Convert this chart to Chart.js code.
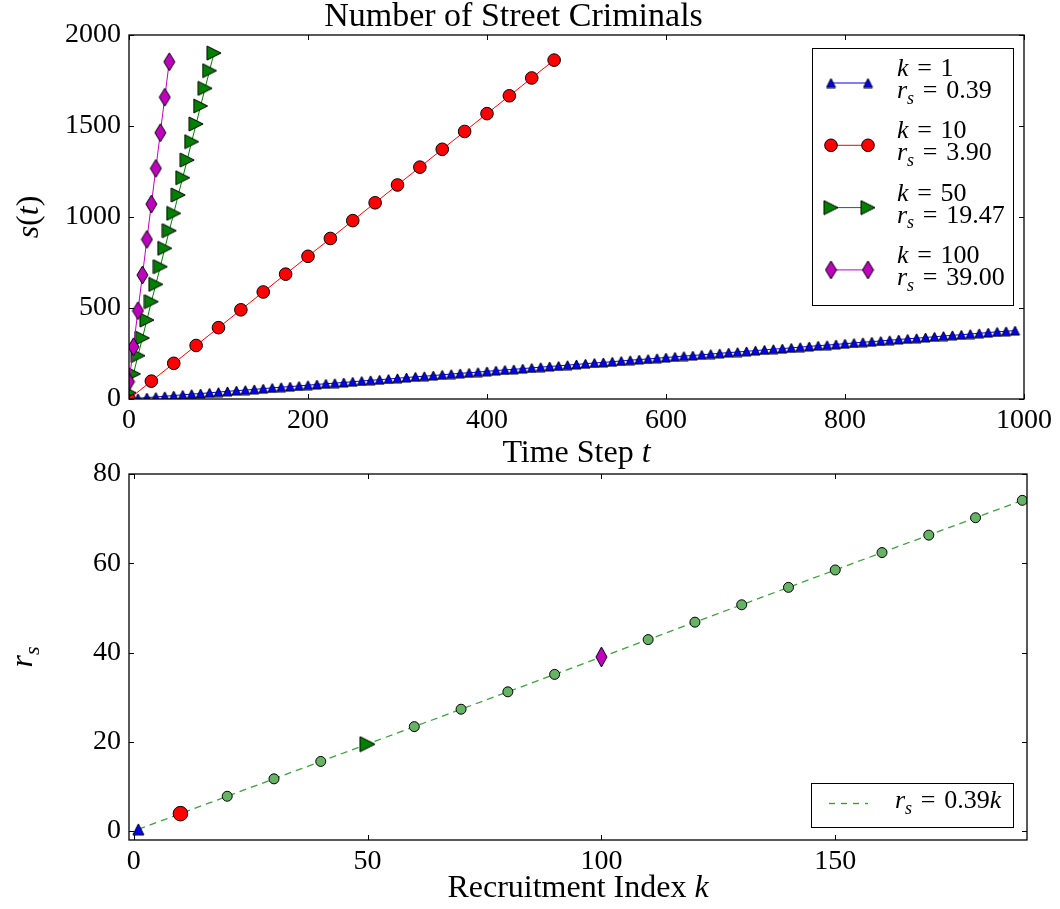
<!DOCTYPE html>
<html>
<head>
<meta charset="utf-8">
<script src="https://cdn.jsdelivr.net/npm/chart.js@4.4.0/dist/chart.umd.min.js"></script>
<style>
  body { margin: 0; background: #fff; }
  canvas { position: absolute; left: 0; }
  #topChart { top: 0; }
  #bottomChart { top: 440px; }
</style>
</head>
<body>
<canvas id="bottomChart" width="1060" height="469"></canvas>
<canvas id="topChart" width="1060" height="470"></canvas>
<script>
// --- top panel: s(t) for each recruitment index k ---
const tK1 = [0,10,20,30,40,50,60,70,80,90,100,110,120,130,140,150,160,170,180,190,
  200,210,220,230,240,250,260,270,280,290,300,310,320,330,340,350,360,370,380,390,
  400,410,420,430,440,450,460,470,480,490,500,510,520,530,540,550,560,570,580,590,
  600,610,620,630,640,650,660,670,680,690,700,710,720,730,740,750,760,770,780,790,
  800,810,820,830,840,850,860,870,880,890,900,910,920,930,940,950,960,970,980,990];
const sK1 = [0,4,8,11,15,19,23,27,30,34,38,42,46,49,53,57,61,65,68,72,
  76,80,84,87,91,95,99,103,106,110,114,118,122,125,129,133,137,141,144,148,
  152,156,160,163,167,171,175,179,182,186,190,194,198,201,205,209,213,217,220,224,
  228,232,236,239,243,247,251,255,258,262,266,270,274,277,281,285,289,293,296,300,
  304,308,312,315,319,323,327,331,334,338,342,346,350,353,357,361,365,369,372,376];
const tK10 = [0,25,50,75,100,125,150,175,200,225,250,275,300,325,350,375,400,425,450,475];
const sK10 = [0,98,196,294,392,490,588,686,784,882,980,1078,1176,1274,1372,1470,1568,1666,1764,1862];
const tK50 = [0,5,10,15,20,25,30,35,40,45,50,55,60,65,70,75,80,85,90,95];
const sK50 = [35,138,238,335,434,535,630,727,828,925,1020,1121,1216,1313,1414,1511,1610,1707,1804,1901];
const tK100 = [0,5,10,15,20,25,30,35,40,45];
const sK100 = [95,287,485,681,877,1071,1267,1463,1658,1853];

// --- bottom panel: r_s against k ---
const kSample = [20,30,40,60,70,80,90,110,120,130,140,150,160,170,180,190];
const rsSample = [7.8,11.7,15.6,23.4,27.3,31.2,35.1,42.9,46.8,50.7,54.6,58.5,62.4,66.3,70.2,74.1];
const kHighlight = [1, 10, 50, 100];
const rsHighlight = [0.39, 3.90, 19.47, 39.00];
const fitK = [1, 190];
const fitRs = [0.39, 74.1];

// tick labels
const topXTicks = [0, 200, 400, 600, 800, 1000];
const topYTicks = [0, 500, 1000, 1500, 2000];
const botXTicks = [0, 50, 100, 150];
const botYTicks = [0, 20, 40, 60, 80];

const SERIF = '"Liberation Serif", "DejaVu Serif", serif';
const EQ = '\u2004=\u2004';

// marker images (matplotlib-like shapes)
function markerImage(w, h, fill, shape) {
  const c = document.createElement('canvas');
  c.width = w + 2; c.height = h + 2;
  const g = c.getContext('2d');
  g.translate(1, 1);
  g.beginPath();
  if (shape === 'up') { g.moveTo(w / 2, 0); g.lineTo(w, h); g.lineTo(0, h); }
  if (shape === 'right') { g.moveTo(0, 0); g.lineTo(w, h / 2); g.lineTo(0, h); }
  if (shape === 'diamond') { g.moveTo(w / 2, 0); g.lineTo(w, h / 2); g.lineTo(w / 2, h); g.lineTo(0, h / 2); }
  g.closePath();
  g.fillStyle = fill; g.fill();
  g.lineWidth = 1; g.strokeStyle = '#000'; g.stroke();
  return c;
}

const seriesStyle = [
  { color: '#0000ff', top: markerImage(9, 9, '#0000ff', 'up'), bottom: markerImage(11, 11, '#0000ff', 'up') },
  { color: '#ff0000', top: 'circle', bottom: 'circle', rTop: 6.3, rBottom: 7.3 },
  { color: '#008000', top: markerImage(14, 14, '#008000', 'right'), bottom: markerImage(15, 15, '#008000', 'right') },
  { color: '#bf00bf', top: markerImage(11, 18, '#bf00bf', 'diamond'), bottom: markerImage(11, 20, '#bf00bf', 'diamond') }
];

function toPoints(xs, ys) {
  return xs.map((x, i) => ({ x: x, y: ys[i] }));
}

function fontFor(kind, size) {
  const sz = kind === 's' ? Math.round(size * 0.7) : size;
  return (kind === 'r' ? '' : 'italic ') + sz + 'px ' + SERIF;
}

// draw text mixing roman, italic and subscript parts
function drawRich(ctx, parts, x, y, size, align) {
  ctx.save();
  ctx.textBaseline = 'alphabetic';
  ctx.textAlign = 'left';
  ctx.fillStyle = '#000';
  let w = 0;
  parts.forEach(p => { ctx.font = fontFor(p[1], size); w += ctx.measureText(p[0]).width; });
  let cx = align === 'center' ? x - w / 2 : x;
  parts.forEach(p => {
    ctx.font = fontFor(p[1], size);
    ctx.fillText(p[0], cx, p[1] === 's' ? y + size * 0.22 : y);
    cx += ctx.measureText(p[0]).width;
  });
  ctx.restore();
}

function drawMarker(ctx, style, radius, color, x, y) {
  ctx.save();
  ctx.fillStyle = color;
  ctx.strokeStyle = '#000';
  ctx.lineWidth = 1;
  Chart.helpers.drawPoint(ctx, { pointStyle: style, radius: radius, borderWidth: 1, rotation: 0 }, x, y);
  ctx.restore();
}

// frame, inward ticks, axis titles and legend
const framePlugin = {
  id: 'frame',
  afterDatasetsDraw(chart, args, opts) {
    const ctx = chart.ctx;
    const a = chart.chartArea;
    const xs = chart.scales.x, ys = chart.scales.y;
    ctx.save();
    ctx.strokeStyle = '#000';
    ctx.lineWidth = 1;
    ctx.beginPath();
    xs.ticks.forEach(t => {
      const px = Math.round(xs.getPixelForValue(t.value)) + 0.5;
      ctx.moveTo(px, a.bottom); ctx.lineTo(px, a.bottom - 5);
      ctx.moveTo(px, a.top); ctx.lineTo(px, a.top + 5);
    });
    ys.ticks.forEach(t => {
      const py = Math.round(ys.getPixelForValue(t.value)) + 0.5;
      ctx.moveTo(a.left, py); ctx.lineTo(a.left + 5, py);
      ctx.moveTo(a.right, py); ctx.lineTo(a.right - 5, py);
    });
    ctx.stroke();
    ctx.lineWidth = 1.3;
    ctx.strokeRect(a.left, a.top, a.right - a.left, a.bottom - a.top);
    ctx.restore();

    drawRich(ctx, opts.xTitle, (a.left + a.right) / 2, opts.xTitleY, 32, 'center');
    ctx.save();
    ctx.translate(opts.yTitleX, (a.top + a.bottom) / 2);
    ctx.rotate(-Math.PI / 2);
    drawRich(ctx, opts.yTitle, 0, 0, 32, 'center');
    ctx.restore();
    if (opts.legend) opts.legend(ctx);
  }
};

function topLegend(ctx) {
  ctx.save();
  ctx.fillStyle = '#fff';
  ctx.fillRect(812.5, 48.5, 201, 257);
  ctx.strokeStyle = '#000';
  ctx.lineWidth = 1;
  ctx.strokeRect(812.5, 48.5, 201, 257);
  ctx.restore();
  kHighlight.forEach((k, i) => {
    const st = seriesStyle[i];
    const y = 83 + i * 62.3;
    ctx.save();
    ctx.strokeStyle = st.color;
    ctx.lineWidth = 1;
    ctx.beginPath(); ctx.moveTo(831, y); ctx.lineTo(868, y); ctx.stroke();
    ctx.restore();
    drawMarker(ctx, st.top, st.rTop || 5, st.color, 831, y);
    drawMarker(ctx, st.top, st.rTop || 5, st.color, 868, y);
    drawRich(ctx, [['k', 'i'], [EQ + k, 'r']], 897, y - 7, 26, 'left');
    drawRich(ctx, [['r', 'i'], ['s', 's'], [EQ + rsHighlight[i].toFixed(2), 'r']], 897, y + 15, 26, 'left');
  });
}

function bottomLegend(ctx) {
  // drawn in bottom-canvas coordinates (canvas starts at page y = 440)
  ctx.save();
  ctx.fillStyle = '#fff';
  ctx.fillRect(811.5, 343.5, 202, 44);
  ctx.strokeStyle = '#000';
  ctx.lineWidth = 1;
  ctx.strokeRect(811.5, 343.5, 202, 44);
  ctx.strokeStyle = 'rgba(0,128,0,0.8)';
  ctx.lineWidth = 1.3;
  ctx.setLineDash([6, 6]);
  ctx.beginPath(); ctx.moveTo(829, 363.5); ctx.lineTo(868, 363.5); ctx.stroke();
  ctx.restore();
  drawRich(ctx, [['r', 'i'], ['s', 's'], [EQ + '0.39', 'r'], ['k', 'i']], 895, 368, 26, 'left');
}

function tickOpts() {
  return { color: '#000', font: { family: SERIF, size: 28, lineHeight: 1 }, padding: 8,
    maxRotation: 0, callback: v => String(v) };
}

function fixedTicks(list) {
  return scale => { scale.ticks = list.map(v => ({ value: v })); };
}

// Top chart - number of street criminals
new Chart(document.getElementById('topChart'), {
  type: 'line',
  data: {
    datasets: [
      { data: toPoints(tK1, sK1), borderColor: seriesStyle[0].color, borderWidth: 1,
        pointStyle: seriesStyle[0].top, pointRadius: 5, order: 4 },
      { data: toPoints(tK10, sK10), borderColor: seriesStyle[1].color, borderWidth: 1,
        pointStyle: 'circle', pointRadius: 6.3, pointBackgroundColor: '#ff0000',
        pointBorderColor: '#000', pointBorderWidth: 1, order: 3 },
      { data: toPoints(tK50, sK50), borderColor: seriesStyle[2].color, borderWidth: 1,
        pointStyle: seriesStyle[2].top, pointRadius: 7, order: 2 },
      { data: toPoints(tK100, sK100), borderColor: seriesStyle[3].color, borderWidth: 1,
        pointStyle: seriesStyle[3].top, pointRadius: 7, order: 1 }
    ]
  },
  options: {
    responsive: false,
    animation: false,
    layout: { padding: { left: 0, right: 33, top: 0, bottom: 0 } },
    plugins: {
      legend: { display: false },
      tooltip: { enabled: false },
      title: {
        display: true,
        text: 'Number of Street Criminals',
        color: '#000',
        font: { family: SERIF, size: 34, weight: 'normal', lineHeight: 35 / 34 },
        padding: { top: 0, bottom: 0 }
      },
      frame: {
        xTitle: [['Time Step ', 'r'], ['t', 'i']],
        xTitleY: 462,
        yTitle: [['s', 'i'], ['(', 'r'], ['t', 'i'], [')', 'r']],
        yTitleX: 38,
        legend: topLegend
      }
    },
    scales: {
      x: {
        type: 'linear', min: 0, max: 1000,
        afterBuildTicks: fixedTicks(topXTicks),
        afterFit: s => { s.height = 71; },
        grid: { display: false, drawTicks: false },
        border: { display: false },
        ticks: tickOpts()
      },
      y: {
        type: 'linear', min: 0, max: 2000,
        afterBuildTicks: fixedTicks(topYTicks),
        afterFit: s => { s.width = 129; },
        grid: { display: false, drawTicks: false },
        border: { display: false },
        ticks: tickOpts()
      }
    }
  },
  plugins: [framePlugin]
});

// Bottom chart - r_s against recruitment index
new Chart(document.getElementById('bottomChart'), {
  type: 'line',
  data: {
    datasets: [
      { data: toPoints(fitK, fitRs), borderColor: 'rgba(0,128,0,0.75)', borderWidth: 1.3,
        borderDash: [7, 5], pointRadius: 0, order: 10 },
      { data: toPoints(kSample, rsSample), showLine: false, pointStyle: 'circle', pointRadius: 5,
        pointBackgroundColor: '#66b366', pointBorderColor: '#000', pointBorderWidth: 1, order: 9 },
      { data: toPoints([kHighlight[0]], [rsHighlight[0]]), showLine: false,
        pointStyle: seriesStyle[0].bottom, pointRadius: 6, order: 4 },
      { data: toPoints([kHighlight[1]], [rsHighlight[1]]), showLine: false,
        pointStyle: 'circle', pointRadius: 7.3, pointBackgroundColor: '#ff0000',
        pointBorderColor: '#000', pointBorderWidth: 1, order: 3 },
      { data: toPoints([kHighlight[2]], [rsHighlight[2]]), showLine: false,
        pointStyle: seriesStyle[2].bottom, pointRadius: 7, order: 2 },
      { data: toPoints([kHighlight[3]], [rsHighlight[3]]), showLine: false,
        pointStyle: seriesStyle[3].bottom, pointRadius: 7, order: 1 }
    ]
  },
  options: {
    responsive: false,
    animation: false,
    layout: { padding: { left: 0, right: 33, top: 34, bottom: 0 } },
    plugins: {
      legend: { display: false },
      tooltip: { enabled: false },
      frame: {
        xTitle: [['Recruitment Index ', 'r'], ['k', 'i']],
        xTitleY: 457,
        yTitle: [['r', 'i'], ['s', 's']],
        yTitleX: 32,
        legend: bottomLegend
      }
    },
    scales: {
      x: {
        type: 'linear', min: -1, max: 191,
        afterBuildTicks: fixedTicks(botXTicks),
        afterFit: s => { s.height = 69; },
        grid: { display: false, drawTicks: false },
        border: { display: false },
        ticks: tickOpts()
      },
      y: {
        type: 'linear', min: -2, max: 80,
        afterBuildTicks: fixedTicks(botYTicks),
        afterFit: s => { s.width = 129; },
        grid: { display: false, drawTicks: false },
        border: { display: false },
        ticks: tickOpts()
      }
    }
  },
  plugins: [framePlugin]
});
</script>
</body>
</html>
